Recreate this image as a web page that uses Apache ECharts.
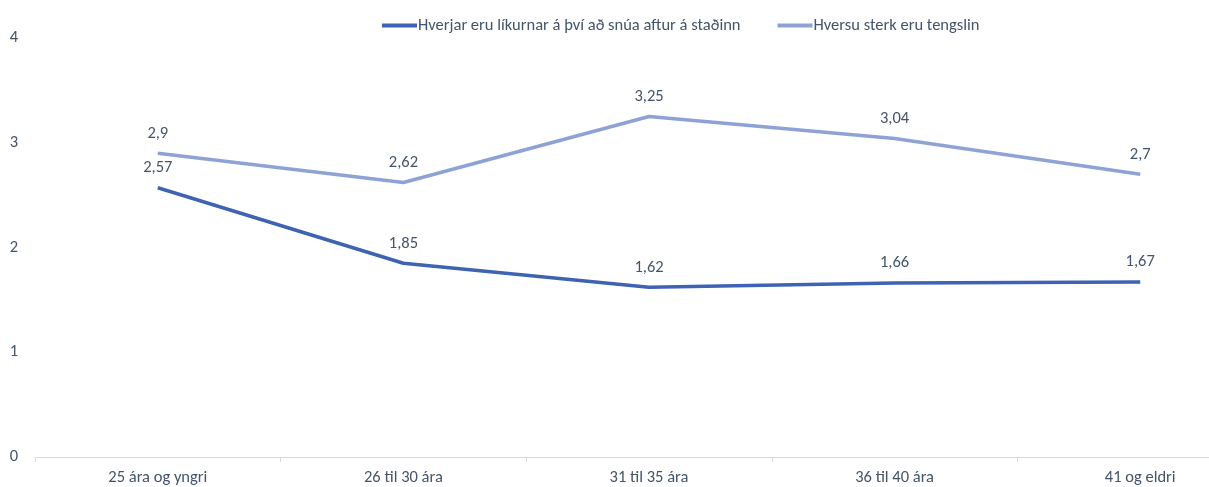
<!DOCTYPE html>
<html>
<head>
<meta charset="utf-8">
<script src="https://cdn.jsdelivr.net/npm/echarts@6/dist/echarts.min.js"></script>
<style>
  html, body { margin: 0; padding: 0; background: #fff; }
  #chart { width: 1209px; height: 487px; }
</style>
</head>
<body>
<div id="chart"></div>
<script>
// aldurshópar
const categories = ['25 ára og yngri', '26 til 30 ára', '31 til 35 ára', '36 til 40 ára', '41 og eldri']
const likurValues = [2.57, 1.85, 1.62, 1.66, 1.67]
const tengslValues = [2.9, 2.62, 3.25, 3.04, 2.7]
const seriesNames = ['Hverjar eru líkurnar á því að snúa aftur á staðinn', 'Hversu sterk eru tengslin']

const textColor = '#44546A'
const font = 'Calibri, Carlito, Lato, sans-serif'
const fs = 16.5

const chart = echarts.init(document.getElementById('chart'))

const labelOpt = {
  show: true,
  position: 'top',
  distance: 11,
  color: textColor,
  fontSize: fs,
  fontFamily: font,
  formatter: p => String(p.value).replace('.', ',')
}

chart.setOption({
  animation: false,
  textStyle: { fontFamily: font },
  legend: {
    top: 12,
    left: 377,
    itemWidth: 35,
    itemHeight: 4,
    itemGap: 37,
    icon: 'rect',
    textStyle: { color: textColor, fontSize: fs, fontFamily: font, padding: [0, 0, 0, -4] },
    data: seriesNames
  },
  grid: {
    left: 35,
    width: 1228,
    top: 38,
    bottom: 30,
    containLabel: false,
    outerBoundsMode: 'none'
  },
  xAxis: {
    type: 'category',
    data: categories,
    boundaryGap: true,
    axisLine: { lineStyle: { color: '#D9D9D9' } },
    axisTick: { show: true, length: 5, lineStyle: { color: '#D9D9D9' } },
    axisLabel: { color: textColor, fontSize: fs, fontFamily: font, margin: 12 }
  },
  yAxis: {
    type: 'value',
    min: 0,
    max: 4,
    interval: 1,
    axisLine: { show: false },
    axisTick: { show: false },
    splitLine: { show: false },
    axisLabel: { color: textColor, fontSize: fs, fontFamily: font, margin: 17 }
  },
  series: [
    {
      name: seriesNames[0],
      type: 'line',
      data: likurValues,
      symbol: 'circle',
      symbolSize: 0.5,
      showAllSymbol: true,
      lineStyle: { color: '#3F63B3', width: 3.5 },
      itemStyle: { color: '#3F63B3' },
      label: labelOpt
    },
    {
      name: seriesNames[1],
      type: 'line',
      data: tengslValues,
      symbol: 'circle',
      symbolSize: 0.5,
      showAllSymbol: true,
      lineStyle: { color: '#8FA2D6', width: 3.5 },
      itemStyle: { color: '#8FA2D6' },
      label: labelOpt
    }
  ]
})
</script>
</body>
</html>
